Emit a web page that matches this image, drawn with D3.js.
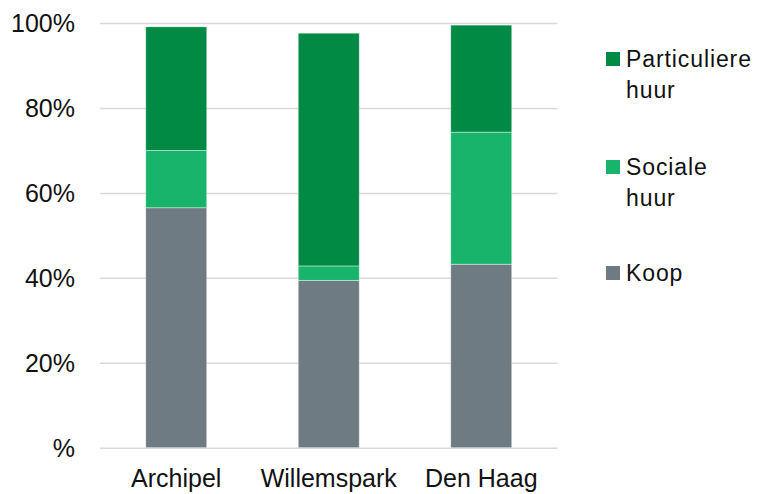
<!DOCTYPE html>
<html><head><meta charset="utf-8">
<script src="https://cdn.jsdelivr.net/npm/d3@7"></script>
<style>body{margin:0;background:#fff}svg{display:block;font-family:"Liberation Sans",Arial,sans-serif}</style>
</head><body><svg id="c" width="759" height="494"></svg>
<script>
const categories = ["Archipel", "Willemspark", "Den Haag"];
const koop = [56.5, 39.4, 43.2];
const socialeHuur = [13.5, 3.4, 31.1];
const particuliereHuur = [29.1, 54.8, 25.2];
const seriesNames = ["Koop", "Sociale huur", "Particuliere huur"];
const seriesColors = ["#6f7b83", "#18b46c", "#008a44"];
const yTicks = [0, 20, 40, 60, 80, 100];
const yTickLabels = ["%", "20%", "40%", "60%", "80%", "100%"];

const svg = d3.select("#c");
const m = {l: 100, r: 201.5, t: 23, b: 46.3};
const W = 759, H = 494;
const x = d3.scaleBand().domain(categories).range([m.l, W - m.r]).paddingInner(0.6).paddingOuter(0.3);
const y = d3.scaleLinear().domain([0, 100]).range([H - m.b, m.t]);

const gy = svg.append("g").attr("transform", `translate(${m.l},0)`)
  .call(d3.axisLeft(y).tickValues(yTicks).tickFormat((d, i) => yTickLabels[i]).tickSize(-(W - m.r - m.l)).tickPadding(25));
gy.select(".domain").remove();
gy.selectAll(".tick line").attr("stroke", "#d9d9d9").attr("stroke-width", 1.5);
gy.selectAll(".tick text").attr("font-size", 25).attr("fill", "#111").attr("dy", "0.34em");

const rows = categories.map((c, i) => ({cat: c, Koop: koop[i], "Sociale huur": socialeHuur[i], "Particuliere huur": particuliereHuur[i]}));
const stack = d3.stack().keys(seriesNames)(rows);
svg.append("g").selectAll("g").data(stack).join("g")
  .attr("fill", (d, i) => seriesColors[i])
  .selectAll("rect").data(d => d).join("rect")
  .attr("x", d => x(d.data.cat))
  .attr("width", x.bandwidth())
  .attr("y", d => y(d[1]))
  .attr("height", d => y(d[0]) - y(d[1]))
  .attr("stroke", "rgba(255,255,255,0.5)").attr("stroke-width", 0.8);

const gx = svg.append("g").attr("transform", `translate(0,${H - m.b})`)
  .call(d3.axisBottom(x).tickSize(0).tickPadding(0));
gx.select(".domain").remove();
gx.selectAll(".tick text").attr("font-size", 25).attr("fill", "#111").attr("dy", null).attr("y", 39);

const legendItems = [
  {name: "Particuliere huur", lines: ["Particuliere", "huur"], color: seriesColors[2], y: 59},
  {name: "Sociale huur", lines: ["Sociale", "huur"], color: seriesColors[1], y: 167},
  {name: "Koop", lines: ["Koop"], color: seriesColors[0], y: 273}
];
const lg = svg.append("g").selectAll("g").data(legendItems).join("g")
  .attr("transform", d => `translate(606,${d.y})`);
lg.append("rect").attr("x", 0).attr("y", -7).attr("width", 14).attr("height", 14).attr("fill", d => d.color);
lg.append("text").attr("font-size", 23).attr("letter-spacing", 0.9).attr("fill", "#111")
  .selectAll("tspan").data(d => d.lines).join("tspan")
  .attr("x", 20).attr("y", (d, i) => 7.5 + i * 31).text(d => d);
</script></body></html>
